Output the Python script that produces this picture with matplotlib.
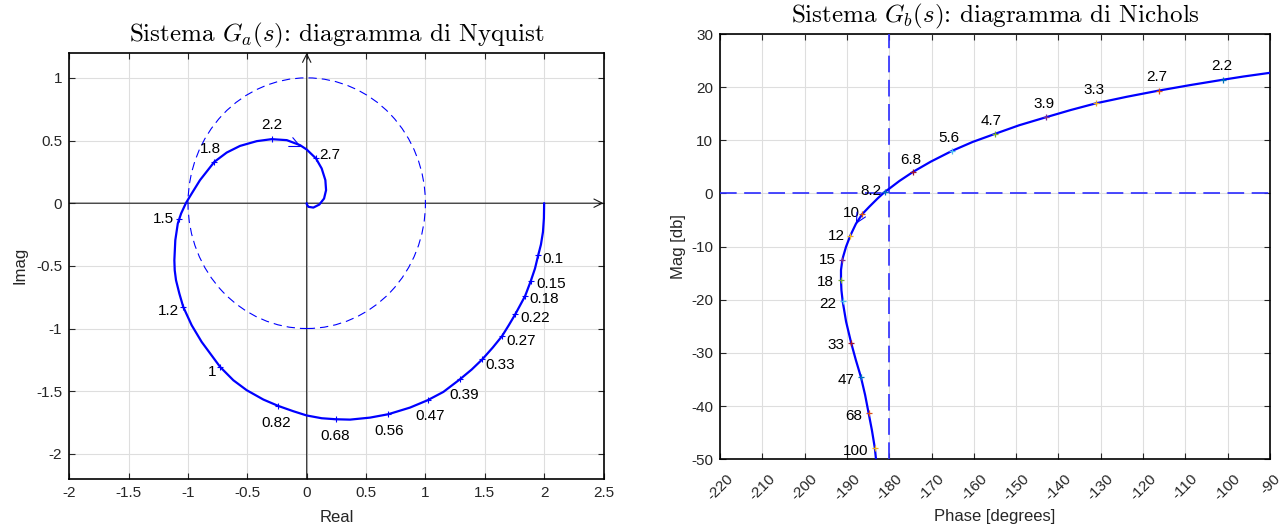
import matplotlib
matplotlib.use("Agg")
import matplotlib.pyplot as plt
from matplotlib.patches import Circle

plt.rcParams["font.family"] = ["Liberation Sans", "DejaVu Sans"]
plt.rcParams["mathtext.fontset"] = "cm"
plt.rcParams["axes.unicode_minus"] = False

DPI = 100
PX = 72.0 / DPI  # one pixel in points

# ---------------- Nyquist locus of G_a(jw) ----------------
nyq_re = [2.000, 1.998, 1.990, 1.973, 1.950, 1.923, 1.887, 1.840, 1.757, 1.702,
          1.645, 1.567, 1.480, 1.390, 1.291, 1.151, 1.019, 0.870, 0.687, 0.533,
          0.365, 0.244, 0.126, 0.000, -0.113, -0.239, -0.365, -0.506, -0.618,
          -0.730, -0.885, -0.969, -1.040, -1.073, -1.101, -1.112, -1.115, -1.107,
          -1.086, -1.075, -1.058, -1.017, -0.969, -0.899, -0.778, -0.674, -0.562,
          -0.421, -0.295, -0.168, -0.056, 0.000, 0.078, 0.126, 0.157, 0.163,
          0.146, 0.106, 0.056, 0.014, 0.000, 0.000]
nyq_im = [0.000, -0.120, -0.230, -0.330, -0.415, -0.521, -0.622, -0.740, -0.886,
          -0.974, -1.061, -1.152, -1.245, -1.327, -1.405, -1.506, -1.572, -1.631,
          -1.684, -1.711, -1.727, -1.724, -1.716, -1.694, -1.660, -1.618, -1.567,
          -1.492, -1.413, -1.306, -1.107, -0.974, -0.828, -0.721, -0.615, -0.535,
          -0.455, -0.295, -0.162, -0.130, -0.082, 0.002, 0.077, 0.184, 0.330,
          0.404, 0.457, 0.495, 0.511, 0.503, 0.463, 0.428, 0.357, 0.277, 0.184,
          0.104, 0.037, -0.011, -0.035, -0.029, -0.008, 0.000]

nyq_freq = ["0.1", "0.15", "0.18", "0.22", "0.27", "0.33", "0.39", "0.47", "0.56",
            "0.68", "0.82", "1", "1.2", "1.5", "1.8", "2.2", "2.7"]
nyq_tick_re = [1.950, 1.887, 1.840, 1.757, 1.645, 1.480, 1.291, 1.019, 0.687,
               0.244, -0.239, -0.730, -1.040, -1.075, -0.778, -0.295, 0.078]
nyq_tick_im = [-0.415, -0.622, -0.740, -0.886, -1.061, -1.245, -1.405, -1.572,
               -1.684, -1.724, -1.618, -1.306, -0.828, -0.130, 0.330, 0.511, 0.357]

# ---------------- Nichols locus of G_b(jw) ----------------
nic_phase = [-90.0, -96.3, -101.1, -108.8, -116.3, -123.8, -131.1, -137.1, -143.0,
             -149.3, -155.1, -160.3, -165.2, -170.2, -174.3, -177.6, -180.0,
             -181.0, -182.7, -184.7, -186.4, -187.9, -189.2, -190.2, -190.9,
             -191.1, -191.4, -191.4, -191.3, -191.0, -190.2, -189.0, -187.9,
             -186.7, -185.7, -184.9, -184.1, -183.4, -183.0]
nic_mag = [22.7, 22.0, 21.4, 20.4, 19.35, 18.2, 16.97, 15.7, 14.33, 12.83, 11.19,
           9.69, 8.0, 5.98, 4.1, 2.35, 0.9, 0.34, -0.9, -2.48, -3.9, -5.74, -7.93,
           -10.0, -11.9, -12.6, -14.4, -16.3, -18.2, -20.3, -24.1, -28.1, -31.3,
           -34.5, -37.9, -41.2, -44.5, -47.9, -51.0]

nic_freq = ["2.2", "2.7", "3.3", "3.9", "4.7", "5.6", "6.8", "8.2", "10", "12",
            "15", "18", "22", "33", "47", "68", "100"]
nic_tick_phase = [-101.1, -116.3, -131.1, -143.0, -155.1, -165.2, -174.3, -181.0,
                  -186.4, -189.2, -191.1, -191.4, -191.0, -189.0, -186.7, -184.9,
                  -183.4]
nic_tick_mag = [21.4, 19.35, 16.97, 14.33, 11.19, 8.0, 4.1, 0.34, -3.9, -7.93,
                -12.6, -16.3, -20.3, -28.1, -34.5, -41.2, -47.9]

# label placement (pixel offsets from each frequency tick)
nyq_label_off = [(15, -4), (20, -3), (19, -3), (20, -4), (19, -5), (18, -6),
                 (4, -16), (2, -16), (1, -17), (-1, -17), (-2, -17), (-8, -5),
                 (-15, -4), (-16, 0), (-4, 13), (0, 14), (14, 3)]
nic_label_off = [(-1, 14), (-2, 14), (-2, 13), (-2, 13), (-3, 13), (-3, 13),
                 (-3, 12), (-14, 1), (-11, 1), (-14, 0), (-15, 0), (-16, -2),
                 (-15, -3), (-15, -2), (-15, -3), (-15, -3), (-19, -3)]

matlab_cycle = ["#0072BD", "#D95319", "#EDB120", "#7E2F8E", "#77AC30",
                "#4DBEEE", "#A2142F"]

AX_COLOR = "#262626"
TITLE_FONT = dict(family="cmr10", size=18)

fig = plt.figure(figsize=(1283 / DPI, 527 / DPI), dpi=DPI)


def style_axes(ax):
    ax.grid(True, color="#dedede", linewidth=0.8)
    ax.set_axisbelow(True)
    for s in ax.spines.values():
        s.set_linewidth(1.2)
        s.set_color("black")
    ax.tick_params(direction="in", length=4, width=0.8, colors=AX_COLOR,
                   labelsize=11, top=True, right=True, pad=5)


# ---------------- left: Nyquist ----------------
ax1 = fig.add_axes([69.3 / 1283, 1 - 478.9 / 527, 534.2 / 1283, 426.1 / 527])
style_axes(ax1)
ax1.set_xlim(-2, 2.5)
ax1.set_ylim(-2.2, 1.2)
ax1.set_xticks([-2, -1.5, -1, -0.5, 0, 0.5, 1, 1.5, 2, 2.5])
ax1.set_xticklabels(["-2", "-1.5", "-1", "-0.5", "0", "0.5", "1", "1.5", "2", "2.5"])
ax1.set_yticks([-2, -1.5, -1, -0.5, 0, 0.5, 1])
ax1.set_yticklabels(["-2", "-1.5", "-1", "-0.5", "0", "0.5", "1"])

# real / imaginary axes with arrowheads
arr = dict(arrowstyle="->,head_length=0.6,head_width=0.3", color="#1a1a1a",
           lw=0.8, shrinkA=0, shrinkB=0)
ax1.annotate("", xy=(2.5, 0), xytext=(-2, 0), arrowprops=arr, zorder=2)
ax1.annotate("", xy=(0, 1.2), xytext=(0, -2.2), arrowprops=arr, zorder=2)

ax1.add_patch(Circle((0, 0), 1, fill=False, ec="blue", lw=0.8,
                     ls=(0, (7.5, 4.5)), zorder=3))
ax1.plot(nyq_re, nyq_im, color="blue", lw=1.6, zorder=4,
         solid_joinstyle="round", solid_capstyle="round")
ax1.plot(nyq_tick_re, nyq_tick_im, ls="none", marker="+", ms=4, mew=0.8,
         color="blue", zorder=5)
for f, x, y, (dx, dy) in zip(nyq_freq, nyq_tick_re, nyq_tick_im, nyq_label_off):
    ax1.annotate(f, xy=(x, y), xytext=(dx * PX, dy * PX), textcoords="offset points",
                 ha="center", va="center", fontsize=11, color="black", zorder=6)
# direction arrow on the locus
ax1.annotate("", xy=(-0.045, 0.448), xytext=(-0.9 * 1.5, 0.42 * 1.5),
             textcoords="offset points",
             arrowprops=dict(arrowstyle="->,head_length=0.75,head_width=0.35",
                             color="blue", lw=0.8, shrinkA=0, shrinkB=0,
                             mutation_scale=10), zorder=6)

ax1.set_title(r"Sistema $G_a(s)$: diagramma di Nyquist", fontdict=TITLE_FONT, pad=8)
ax1.set_xlabel("Real", fontsize=12, color=AX_COLOR, labelpad=7)
ax1.set_ylabel("Imag", fontsize=12, color=AX_COLOR, labelpad=6)

# ---------------- right: Nichols ----------------
ax2 = fig.add_axes([720 / 1283, 1 - 459.3 / 527, 550 / 1283, 425.3 / 527])
style_axes(ax2)
ax2.set_xlim(-220, -90)
ax2.set_ylim(-50, 30)
ax2.set_xticks(list(range(-220, -89, 10)))
ax2.set_yticks(list(range(-50, 31, 10)))
ax2.tick_params(axis="x", pad=9)
for lbl in ax2.get_xticklabels():
    lbl.set_rotation(45)
    lbl.set_ha("center")
    lbl.set_va("top")

ax2.axhline(0, color="#2a2aff", lw=1.2, ls=(0, (10, 4.5)), zorder=3)
ax2.axvline(-180, color="#2a2aff", lw=1.2, ls=(0, (10, 4.5)), zorder=3)
ax2.plot(nic_phase, nic_mag, color="blue", lw=1.6, zorder=4,
         solid_joinstyle="round")
for i, (x, y) in enumerate(zip(nic_tick_phase, nic_tick_mag)):
    ax2.plot([x], [y], ls="none", marker="+", ms=4, mew=0.9,
             color=matlab_cycle[i % len(matlab_cycle)], zorder=5)
for f, x, y, (dx, dy) in zip(nic_freq, nic_tick_phase, nic_tick_mag, nic_label_off):
    ax2.annotate(f, xy=(x, y), xytext=(dx * PX, dy * PX), textcoords="offset points",
                 ha="center", va="center", fontsize=11, color="black", zorder=6)
ax2.annotate("", xy=(-187.9, -5.74), xytext=(0.5 * 1.5, 0.87 * 1.5),
             textcoords="offset points",
             arrowprops=dict(arrowstyle="->,head_length=0.7,head_width=0.35",
                             color="blue", lw=0.8, shrinkA=0, shrinkB=0,
                             mutation_scale=10), zorder=6)

ax2.set_title(r"Sistema $G_b(s)$: diagramma di Nichols", fontdict=TITLE_FONT, pad=8)
ax2.set_xlabel("Phase [degrees]", fontsize=12, color=AX_COLOR, labelpad=4)
ax2.set_ylabel("Mag [db]", fontsize=12, color=AX_COLOR, labelpad=4)

fig.savefig("out.png", dpi=DPI)
